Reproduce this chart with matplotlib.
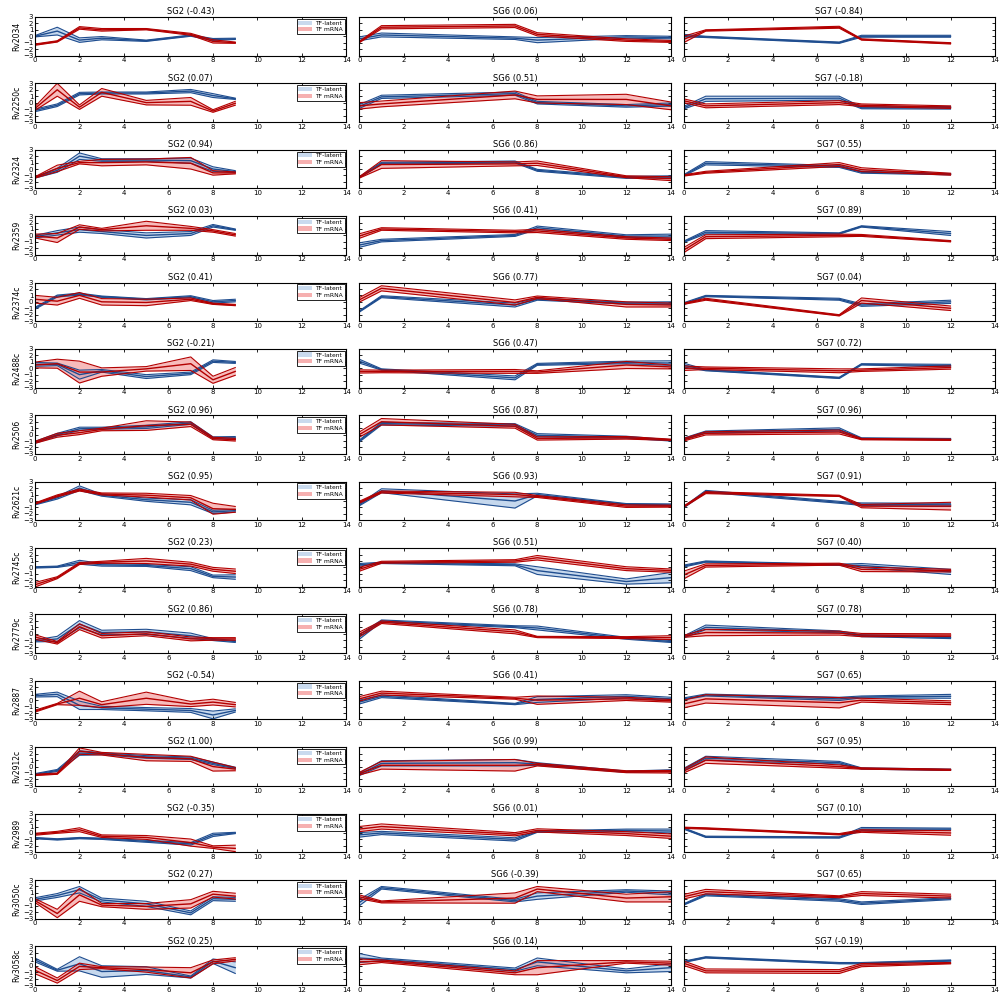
import numpy as np
import matplotlib
matplotlib.use("Agg")
import matplotlib.pyplot as plt
from matplotlib.patches import Patch

genes = ["Rv2034", "Rv2250c", "Rv2324", "Rv2359", "Rv2374c", "Rv2488c", "Rv2506",
         "Rv2621c", "Rv2745c", "Rv2779c", "Rv2887", "Rv2912c", "Rv2989", "Rv3050c", "Rv3058c"]

t_sg2 = [0, 1, 2, 3, 5, 7, 8, 9]
t_sg6 = [0, 1, 7, 8, 12, 14]
t_sg7 = [0, 1, 7, 8, 12]

sg2_corr = [-0.43, 0.07, 0.94, 0.03, 0.41, -0.21, 0.96, 0.95, 0.23, 0.86, -0.54, 1.00, -0.35, 0.27, 0.25]
sg6_corr = [0.06, 0.51, 0.86, 0.41, 0.77, 0.47, 0.87, 0.93, 0.51, 0.78, 0.41, 0.99, 0.01, -0.39, 0.14]
sg7_corr = [-0.84, -0.18, 0.55, 0.89, 0.04, 0.72, 0.96, 0.91, 0.40, 0.78, 0.65, 0.95, 0.10, 0.65, -0.19]

# SG2 : TF-latent (blue) and TF mRNA (red), mean and sd
sg2_lat = [
    [0.0, 0.8, -0.6, -0.3, -0.7, 0.1, -0.5, -0.4],
    [-1.2, -0.4, 1.4, 1.5, 1.5, 1.8, 1.1, 0.6],
    [-1.3, -0.2, 2.0, 1.4, 1.4, 1.3, 0.0, -0.4],
    [-0.2, 0.4, 0.9, 0.6, 0.0, 0.3, 1.5, 0.9],
    [-1.0, 0.9, 1.2, 0.8, 0.4, 0.8, 0.0, 0.2],
    [0.6, 0.6, -1.0, -0.4, -1.3, -0.8, 1.1, 0.9],
    [-1.2, 0.0, 0.9, 1.0, 1.2, 1.8, -0.5, -0.5],
    [-0.5, 0.5, 2.0, 0.9, 0.2, -0.2, -1.7, -1.5],
    [0.0, 0.1, 0.8, 0.4, 0.3, -0.2, -1.4, -1.5],
    [-1.1, -0.8, 1.5, 0.2, 0.3, -0.3, -0.9, -1.2],
    [0.7, 0.9, -0.8, -1.2, -1.4, -1.6, -2.3, -1.6],
    [-1.2, -0.6, 2.1, 2.0, 1.5, 1.3, 0.5, -0.2],
    [-0.8, -1.0, -0.8, -0.9, -1.3, -1.7, -0.3, 0.0],
    [0.0, 0.6, 1.5, -0.1, -0.7, -2.1, 0.1, 0.0],
    [0.9, -0.7, 0.3, -0.9, -0.75, -1.75, 0.7, -0.3],
]
sg2_lat_sd = [
    [0.1, 0.6, 0.35, 0.25, 0.1, 0.1, 0.15, 0.1],
    [0.2, 0.2, 0.2, 0.15, 0.15, 0.25, 0.3, 0.1],
    [0.1, 0.3, 0.5, 0.2, 0.2, 0.4, 0.35, 0.15],
    [0.2, 0.35, 0.4, 0.3, 0.4, 0.3, 0.2, 0.1],
    [0.15, 0.15, 0.15, 0.1, 0.1, 0.15, 0.2, 0.2],
    [0.3, 0.2, 0.7, 0.2, 0.3, 0.2, 0.2, 0.15],
    [0.15, 0.2, 0.25, 0.15, 0.25, 0.2, 0.15, 0.2],
    [0.1, 0.2, 0.35, 0.15, 0.25, 0.4, 0.25, 0.2],
    [0.1, 0.1, 0.3, 0.2, 0.15, 0.3, 0.2, 0.35],
    [0.15, 0.4, 0.55, 0.35, 0.4, 0.4, 0.15, 0.15],
    [0.2, 0.35, 0.65, 0.25, 0.25, 0.3, 0.6, 0.25],
    [0.1, 0.15, 0.35, 0.15, 0.2, 0.2, 0.2, 0.1],
    [0.1, 0.1, 0.1, 0.1, 0.15, 0.2, 0.25, 0.1],
    [0.25, 0.3, 0.5, 0.3, 0.4, 0.3, 0.3, 0.3],
    [0.3, 0.15, 1.1, 0.9, 0.6, 0.15, 0.35, 0.9],
]
sg2_mrna = [
    [-1.3, -0.8, 1.3, 1.0, 1.1, 0.3, -0.8, -1.0],
    [-0.9, 2.0, -0.7, 1.6, 0.0, 0.2, -1.3, -0.1],
    [-1.3, 0.1, 1.0, 1.0, 1.1, 0.9, -0.6, -0.6],
    [-0.1, -0.4, 1.3, 0.9, 1.5, 1.1, 0.7, 0.1],
    [0.4, 0.1, 1.0, 0.0, -0.1, 0.4, -0.3, -0.5],
    [0.5, 0.7, -0.6, -0.6, -0.1, 0.7, -1.8, -0.5],
    [-1.2, -0.1, 0.3, 0.8, 1.4, 1.6, -0.6, -0.8],
    [-0.4, 0.8, 1.7, 1.1, 0.9, 0.5, -1.2, -1.3],
    [-2.7, -1.6, 0.6, 0.8, 1.0, 0.5, -0.3, -0.6],
    [-0.5, -1.4, 1.1, -0.3, 0.0, -0.8, -0.8, -0.8],
    [-1.7, -0.6, 0.3, -0.7, 0.3, -0.6, -0.3, -0.7],
    [-1.3, -1.1, 2.4, 2.0, 1.4, 1.2, 0.0, -0.4],
    [-0.2, 0.1, 0.5, -0.5, -0.7, -1.5, -2.2, -2.4],
    [-0.2, -2.2, 0.7, -0.9, -1.1, -0.7, 0.8, 0.5],
    [-0.7, -2.3, -0.1, -0.3, -0.6, -1.1, 0.6, 1.0],
]
sg2_mrna_sd = [
    [0.1, 0.1, 0.2, 0.2, 0.1, 0.15, 0.25, 0.1],
    [0.3, 1.0, 0.35, 0.6, 0.35, 0.6, 0.2, 0.3],
    [0.1, 0.5, 0.2, 0.5, 0.45, 0.9, 0.35, 0.15],
    [0.3, 0.7, 0.35, 0.2, 0.7, 0.3, 0.2, 0.2],
    [0.6, 0.6, 0.45, 0.5, 0.5, 0.2, 0.1, 0.1],
    [0.45, 0.7, 1.7, 0.65, 0.35, 1.05, 0.55, 0.6],
    [0.15, 0.3, 0.3, 0.2, 0.75, 0.35, 0.2, 0.2],
    [0.1, 0.15, 0.15, 0.15, 0.3, 0.35, 0.85, 0.45],
    [0.35, 0.15, 0.15, 0.15, 0.4, 0.3, 0.3, 0.35],
    [0.35, 0.2, 0.45, 0.35, 0.3, 0.3, 0.2, 0.2],
    [0.15, 0.1, 1.1, 0.45, 0.95, 0.4, 0.45, 0.35],
    [0.1, 0.1, 0.5, 0.2, 0.5, 0.4, 0.7, 0.25],
    [0.15, 0.15, 0.3, 0.2, 0.3, 0.55, 0.2, 0.5],
    [0.3, 0.65, 1.0, 0.25, 0.45, 0.65, 0.45, 0.45],
    [0.55, 0.4, 0.5, 0.15, 0.4, 0.8, 0.3, 0.25],
]

# SG6
sg6_lat = [
    [-0.4, 0.2, -0.3, -0.6, -0.1, -0.2],
    [-0.6, 0.9, 1.4, 0.0, -0.5, -0.3],
    [-1.3, 0.9, 1.1, -0.2, -1.3, -1.2],
    [-1.5, -0.8, 0.0, 1.2, -0.1, -0.1],
    [-1.5, 0.8, -0.5, 0.4, -0.2, -0.2],
    [1.1, -0.2, -1.5, 0.6, 0.9, 0.8],
    [-1.0, 1.7, 1.5, -0.1, -0.4, -0.9],
    [-0.6, 1.6, 0.0, 1.0, -0.5, -0.6],
    [0.4, 0.7, 0.4, -0.5, -2.2, -1.6],
    [-0.5, 2.0, 1.1, 0.9, -0.7, -1.2],
    [-0.3, 0.6, -0.6, 0.1, 0.6, 0.2],
    [-1.2, 0.5, 0.6, 0.4, -0.8, -0.6],
    [-0.3, 0.0, -1.0, 0.2, 0.4, 0.3],
    [-0.5, 1.8, -0.2, 0.5, 1.3, 1.0],
    [1.2, 1.0, -0.6, 0.6, -0.8, -0.3],
]
sg6_lat_sd = [
    [0.3, 0.3, 0.2, 0.4, 0.2, 0.2],
    [0.3, 0.25, 0.25, 0.2, 0.2, 0.25],
    [0.1, 0.15, 0.15, 0.15, 0.15, 0.15],
    [0.35, 0.2, 0.15, 0.25, 0.2, 0.3],
    [0.1, 0.15, 0.3, 0.15, 0.15, 0.2],
    [0.3, 0.1, 0.3, 0.15, 0.2, 0.35],
    [0.15, 0.2, 0.2, 0.25, 0.15, 0.1],
    [0.15, 0.3, 1.1, 0.2, 0.1, 0.15],
    [0.2, 0.1, 0.15, 0.6, 0.4, 0.8],
    [0.35, 0.15, 0.15, 0.3, 0.15, 0.15],
    [0.3, 0.2, 0.1, 0.45, 0.25, 0.25],
    [0.2, 0.4, 0.5, 0.2, 0.1, 0.1],
    [0.35, 0.25, 0.25, 0.1, 0.2, 0.3],
    [0.5, 0.2, 0.2, 0.5, 0.2, 0.3],
    [0.7, 0.2, 0.25, 0.6, 0.3, 0.6],
]
sg6_mrna = [
    [-0.9, 1.4, 1.6, 0.3, -0.6, -0.8],
    [-0.5, -0.2, 1.2, 0.5, 0.5, -0.5],
    [-1.3, 0.7, 0.8, 0.9, -1.2, -1.5],
    [-0.1, 1.0, 0.6, 0.7, -0.4, -0.6],
    [0.3, 2.1, -0.1, 0.7, -0.4, -0.5],
    [-0.5, -0.5, -0.5, -0.6, 0.5, 0.2],
    [0.0, 2.0, 1.3, -0.6, -0.5, -0.8],
    [-0.2, 1.4, 1.0, 0.7, -0.8, -0.8],
    [-0.3, 0.8, 1.0, 1.5, -0.2, -0.5],
    [-0.1, 1.8, 0.3, -0.5, -0.6, -0.6],
    [0.2, 1.1, 0.3, 0.0, 0.2, -0.1],
    [-1.1, 0.2, 0.2, 0.3, -0.8, -0.8],
    [0.6, 1.0, -0.2, 0.4, -0.1, -0.5],
    [0.4, -0.4, 0.2, 1.6, 0.2, 0.4],
    [0.6, 0.7, -1.1, -0.3, 0.6, 0.4],
]
sg6_mrna_sd = [
    [0.1, 0.25, 0.25, 0.25, 0.2, 0.15],
    [0.5, 0.45, 0.6, 0.55, 0.8, 0.6],
    [0.1, 0.6, 0.3, 0.35, 0.15, 0.3],
    [0.35, 0.2, 0.2, 0.25, 0.2, 0.2],
    [0.35, 0.4, 0.4, 0.2, 0.4, 0.3],
    [0.25, 0.2, 0.3, 0.2, 0.55, 0.3],
    [0.4, 0.5, 0.3, 0.25, 0.2, 0.1],
    [0.15, 0.15, 0.35, 0.15, 0.2, 0.15],
    [0.3, 0.15, 0.2, 0.35, 0.3, 0.25],
    [0.35, 0.2, 0.3, 0.1, 0.15, 0.3],
    [0.35, 0.3, 0.15, 0.65, 0.25, 0.2],
    [0.2, 0.6, 0.9, 0.2, 0.15, 0.2],
    [0.4, 0.4, 0.25, 0.25, 0.3, 0.35],
    [0.3, 0.15, 0.8, 0.4, 0.6, 0.8],
    [0.45, 0.2, 0.3, 1.1, 0.2, 0.3],
]

# SG7
sg7_lat = [
    [0.1, -0.1, -1.0, 0.0, 0.0],
    [-0.8, 0.6, 0.7, -0.8, -0.8],
    [-1.0, 0.9, 0.4, -0.5, -0.8],
    [-1.0, 0.5, 0.3, 1.4, 0.3],
    [-0.3, 0.9, 0.4, -0.5, 0.0],
    [0.5, -0.3, -1.5, 0.6, 0.4],
    [-0.7, 0.4, 0.8, -0.6, -0.7],
    [-1.0, 1.5, -0.2, -0.5, -0.6],
    [0.2, 0.9, 0.4, 0.3, -0.7],
    [-0.5, 1.0, 0.3, -0.3, -0.6],
    [0.2, 0.8, 0.2, 0.5, 0.6],
    [-0.5, 1.3, 0.6, -0.3, -0.5],
    [0.7, -0.6, -0.7, 0.6, 0.6],
    [-0.8, 0.7, -0.1, -0.6, 0.1],
    [0.6, 1.3, 0.4, 0.4, 0.8],
]
sg7_lat_sd = [
    [0.2, 0.1, 0.1, 0.15, 0.15],
    [0.2, 0.4, 0.3, 0.15, 0.2],
    [0.1, 0.25, 0.15, 0.15, 0.1],
    [0.1, 0.25, 0.1, 0.1, 0.3],
    [0.15, 0.1, 0.15, 0.2, 0.25],
    [0.3, 0.1, 0.1, 0.1, 0.2],
    [0.15, 0.15, 0.25, 0.1, 0.1],
    [0.1, 0.15, 0.15, 0.2, 0.25],
    [0.15, 0.1, 0.1, 0.3, 0.4],
    [0.15, 0.35, 0.15, 0.15, 0.15],
    [0.15, 0.15, 0.25, 0.15, 0.3],
    [0.2, 0.3, 0.2, 0.1, 0.1],
    [0.1, 0.1, 0.1, 0.25, 0.15],
    [0.1, 0.15, 0.2, 0.2, 0.15],
    [0.1, 0.1, 0.1, 0.1, 0.1],
]
sg7_mrna = [
    [-0.5, 0.9, 1.4, -0.5, -1.1],
    [0.3, -0.5, 0.0, -0.4, -0.7],
    [-1.0, -0.5, 0.7, -0.1, -0.8],
    [-2.3, -0.2, 0.0, 0.0, -0.9],
    [-0.3, 0.4, -2.1, 0.2, -1.0],
    [0.0, 0.0, -0.4, -0.3, 0.1],
    [-0.8, 0.2, 0.4, -0.7, -0.8],
    [-0.9, 1.3, 0.8, -0.8, -0.8],
    [-1.2, 0.3, 0.5, -0.3, -0.5],
    [-0.4, 0.2, 0.1, -0.2, -0.2],
    [-0.6, 0.2, -0.4, 0.0, -0.4],
    [-0.7, 1.0, 0.0, -0.3, -0.5],
    [0.8, 0.7, -0.2, 0.3, 0.0],
    [0.4, 1.2, 0.4, 0.9, 0.5],
    [0.4, -0.8, -0.9, 0.1, 0.4],
]
sg7_mrna_sd = [
    [0.5, 0.1, 0.15, 0.1, 0.1],
    [0.3, 0.3, 0.3, 0.2, 0.2],
    [0.1, 0.15, 0.3, 0.3, 0.15],
    [0.4, 0.3, 0.2, 0.15, 0.1],
    [0.1, 0.15, 0.1, 0.4, 0.35],
    [0.35, 0.2, 0.3, 0.2, 0.25],
    [0.2, 0.25, 0.3, 0.1, 0.1],
    [0.1, 0.15, 0.1, 0.25, 0.6],
    [0.6, 0.25, 0.15, 0.35, 0.2],
    [0.15, 0.5, 0.3, 0.25, 0.2],
    [0.6, 0.65, 0.8, 0.3, 0.3],
    [0.3, 0.5, 0.25, 0.1, 0.1],
    [0.1, 0.1, 0.1, 0.2, 0.35],
    [0.35, 0.35, 0.15, 0.3, 0.3],
    [0.35, 0.3, 0.3, 0.25, 0.1],
]

blue_line = "#1f4d8f"
blue_fill = "#8fb3dc"
red_line = "#b30000"
red_fill = "#f07a7a"


def band(ax, t, m, s, lc, fc):
    m = np.array(m)
    s = np.array(s)
    ax.fill_between(t, m - s, m + s, color=fc, alpha=0.5, lw=0)
    ax.plot(t, m, color=lc, lw=1.0)
    ax.plot(t, m + s, color=lc, lw=0.8)
    ax.plot(t, m - s, color=lc, lw=0.8)


fig, axes = plt.subplots(15, 3, figsize=(10, 9.97), dpi=100)
fig.subplots_adjust(left=0.035, right=0.995, top=0.983, bottom=0.012, wspace=0.041, hspace=0.72)

groups = [
    ("SG2", t_sg2, sg2_corr, sg2_lat, sg2_lat_sd, sg2_mrna, sg2_mrna_sd),
    ("SG6", t_sg6, sg6_corr, sg6_lat, sg6_lat_sd, sg6_mrna, sg6_mrna_sd),
    ("SG7", t_sg7, sg7_corr, sg7_lat, sg7_lat_sd, sg7_mrna, sg7_mrna_sd),
]

for i, g in enumerate(genes):
    for j, (name, t, corr, lat, lat_sd, mrna, mrna_sd) in enumerate(groups):
        ax = axes[i, j]
        band(ax, t, lat[i], lat_sd[i], blue_line, blue_fill)
        band(ax, t, mrna[i], mrna_sd[i], red_line, red_fill)
        ax.set_xlim(0, 14)
        ax.set_ylim(-3, 3)
        ax.set_xticks(range(0, 15, 2))
        ax.set_yticks(range(-3, 4))
        ax.tick_params(direction="in", top=True, right=True, labelsize=5,
                       length=2.5, width=0.6, pad=1.2)
        for sp in ax.spines.values():
            sp.set_linewidth(0.8)
        ax.set_title("%s (%.2f)" % (name, corr[i]), fontsize=6, pad=2)
        if j == 0:
            ax.set_ylabel(g, fontsize=5.5, labelpad=1)
            handles = [Patch(facecolor="#c9daee", edgecolor="none", label="TF-latent"),
                       Patch(facecolor="#f6b0b0", edgecolor="none", label="TF mRNA")]
            leg = ax.legend(handles=handles, loc="upper right", fontsize=4.3,
                            fancybox=False, framealpha=1, borderpad=0.3,
                            labelspacing=0.25, handlelength=2.2, handletextpad=0.6,
                            borderaxespad=0.3)
            leg.get_frame().set_edgecolor("black")
            leg.get_frame().set_linewidth(0.6)
        else:
            ax.tick_params(labelleft=False)

plt.savefig("out.png", dpi=100)
